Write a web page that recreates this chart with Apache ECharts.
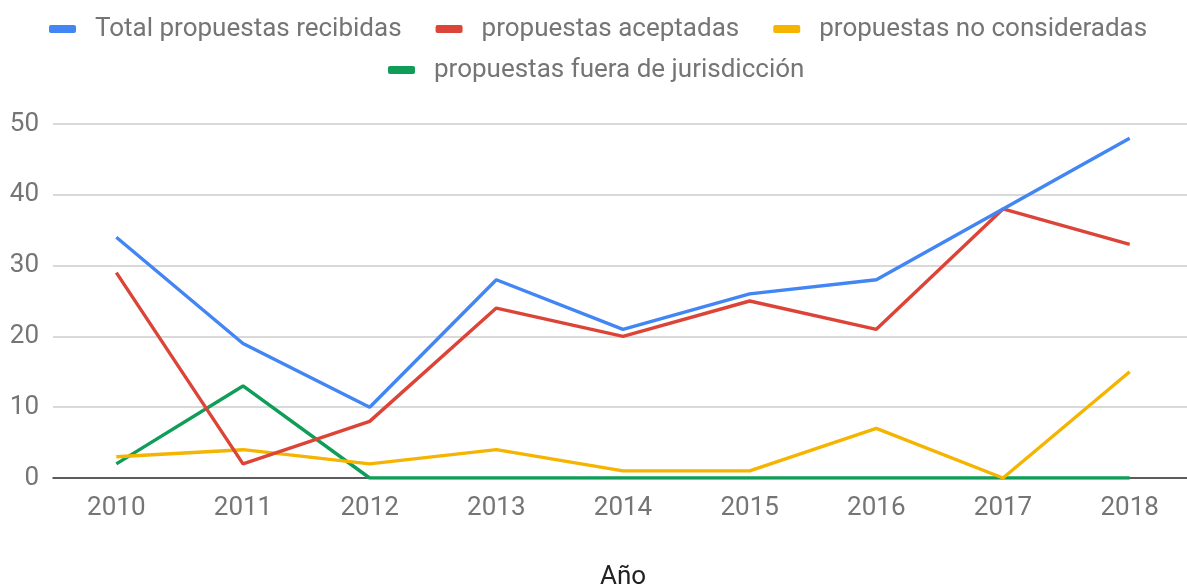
<!DOCTYPE html>
<html>
<head>
<meta charset="utf-8">
<script src="https://cdn.jsdelivr.net/npm/echarts@6/dist/echarts.min.js"></script>
<style>
html,body{margin:0;padding:0;background:#fff;}
#chart{width:1187px;height:588px;}
</style>
</head>
<body>
<div id="chart"></div>
<script>
const categories = ['2010','2011','2012','2013','2014','2015','2016','2017','2018'];
const totalRecibidas = [34, 19, 10, 28, 21, 26, 28, 38, 48];
const aceptadas = [29, 2, 8, 24, 20, 25, 21, 38, 33];
const noConsideradas = [3, 4, 2, 4, 1, 1, 7, 0, 15];
const fueraJurisdiccion = [2, 13, 0, 0, 0, 0, 0, 0, 0];
const seriesNames = ['Total propuestas recibidas','propuestas aceptadas','propuestas no consideradas','propuestas fuera de jurisdicción'];
const colors = ['#4285F4','#DB4437','#F4B400','#0F9D58'];
const yTicks = [0,10,20,30,40,50];
const xTitle = 'Año';

const chart = echarts.init(document.getElementById('chart'));
const font = 'Roboto';
const legendCommon = {
  orient: 'horizontal',
  padding: 0,
  itemWidth: 27,
  itemHeight: 8,
  itemGap: 34,
  icon: 'roundRect',
  textStyle: {color: '#757575', fontSize: 26, fontFamily: font, padding: [0,0,0,14]},
  selectedMode: false
};
const dataSeries = [totalRecibidas, aceptadas, noConsideradas, fueraJurisdiccion];
chart.setOption({
  animation: false,
  color: colors,
  legend: [
    Object.assign({}, legendCommon, {left: 49, top: 16, data: seriesNames.slice(0,3)}),
    Object.assign({}, legendCommon, {left: 388, top: 57, data: seriesNames.slice(3)})
  ],
  grid: {left: 53, top: 124, width: 1140, bottom: 110, containLabel: false, outerBoundsMode: 'none'},
  xAxis: {
    type: 'category',
    data: categories,
    boundaryGap: true,
    name: xTitle,
    nameLocation: 'middle',
    nameGap: 86,
    nameTextStyle: {color: '#222', fontSize: 26, fontFamily: font},
    axisLine: {show: true, lineStyle: {color: '#333', width: 1.5}},
    axisTick: {show: false},
    axisLabel: {color: '#757575', fontSize: 26, fontFamily: font, margin: 17},
    splitLine: {show: false}
  },
  yAxis: {
    type: 'value',
    min: yTicks[0],
    max: yTicks[yTicks.length-1],
    interval: 10,
    axisLine: {show: false},
    axisTick: {show: false},
    axisLabel: {color: '#757575', fontSize: 26, fontFamily: font, margin: 14},
    splitLine: {lineStyle: {color: '#cccccc', width: 1.5}}
  },
  series: seriesNames.map((n, i) => ({
    name: n,
    type: 'line',
    data: dataSeries[i],
    symbol: 'none',
    lineStyle: {width: 3.4, color: colors[i]},
    itemStyle: {color: colors[i]},
    z: 10 - i
  }))
});
</script>
</body>
</html>
